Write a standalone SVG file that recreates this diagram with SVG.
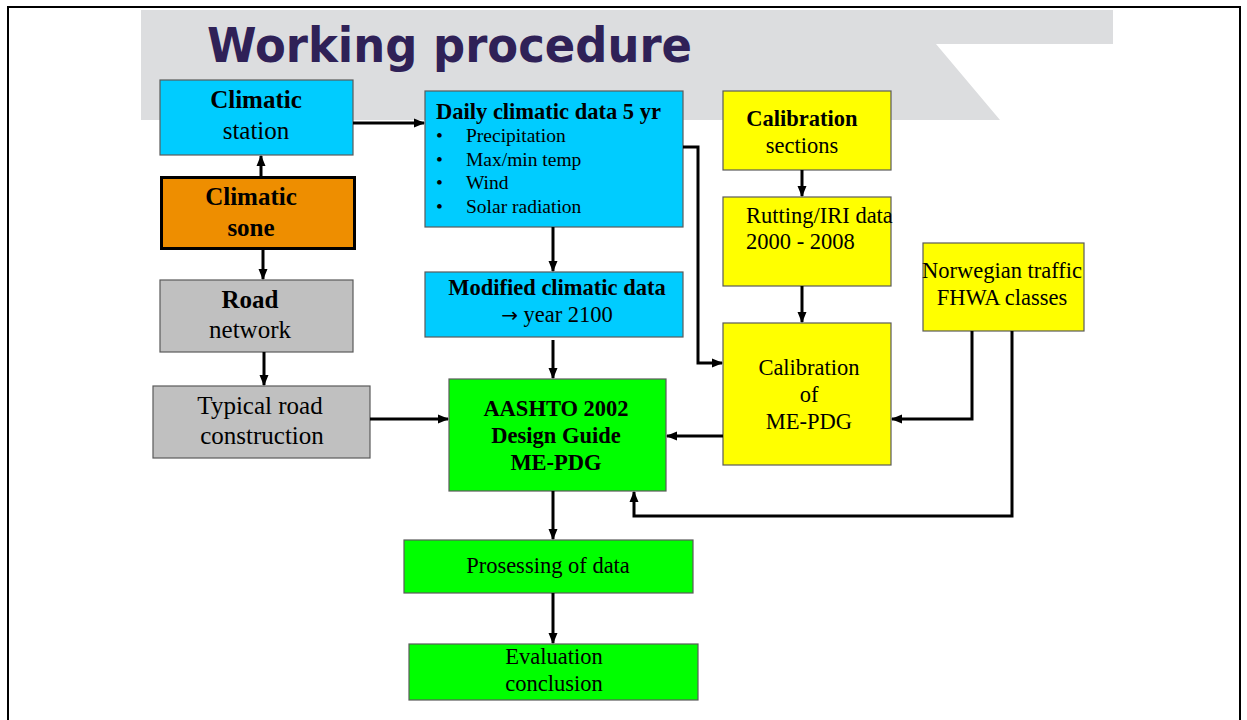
<svg xmlns="http://www.w3.org/2000/svg" width="1247" height="720" viewBox="0 0 1247 720">
<defs>
<marker id="ah" markerWidth="11" markerHeight="10" refX="10" refY="5" orient="auto" markerUnits="userSpaceOnUse">
<path d="M0,0.5 L11,5 L0,9.5 Z" fill="#000"/>
</marker>
<style>
.box{stroke:#5a5a5a;stroke-width:1.2}
.cyan{fill:#00ccff}.yel{fill:#ffff00}.grn{fill:#00ff00}.gry{fill:#c0c0c0}
.t{font-family:"Liberation Serif","Times New Roman",serif;fill:#000}
.b{font-weight:bold}
.c{text-anchor:middle}
.s25{font-size:25px}.s22{font-size:22.5px}.s19{font-size:19.5px}
.conn path{fill:none;stroke:#000;stroke-width:3;marker-end:url(#ah)}
</style>
</defs>
<rect x="0" y="0" width="1247" height="720" fill="#fff"/>
<rect x="8" y="7" width="1232" height="720" fill="none" stroke="#000" stroke-width="2"/>
<path d="M141,10 H1113 V44 H936 L1000,120 H141 Z" fill="#dcdddf"/>
<text x="207" y="62" font-family="'DejaVu Sans',Verdana,sans-serif" font-weight="bold" font-size="48" fill="#2f2157" textLength="485" lengthAdjust="spacingAndGlyphs">Working procedure</text>

<g id="climatic-station"><rect class="box cyan" x="160" y="80" width="193" height="75"/>
<text class="t b c s25" x="256" y="108">Climatic</text><text class="t c s25" x="256" y="139">station</text></g>
<g id="climatic-sone"><rect x="161.5" y="177.5" width="193" height="71" fill="#ee8e00" stroke="#000" stroke-width="3"/>
<text class="t b c s25" x="251" y="205">Climatic</text><text class="t b c s25" x="251" y="236">sone</text></g>
<g id="road-network"><rect class="box gry" x="160" y="280" width="193" height="72"/>
<text class="t b c s25" x="250" y="308">Road</text><text class="t c s25" x="250" y="338">network</text></g>
<g id="typical-road"><rect class="box gry" x="153" y="386" width="217" height="72"/>
<text class="t c s25" x="260" y="414">Typical road</text><text class="t c s25" x="262" y="444">construction</text></g>
<g id="daily-climatic"><rect class="box cyan" x="425" y="91" width="258" height="136"/>
<text class="t b s22" x="436" y="119">Daily climatic data 5 yr</text>
<text class="t s19" x="436" y="142">•</text><text class="t s19" x="466" y="142">Precipitation</text>
<text class="t s19" x="436" y="166">•</text><text class="t s19" x="466" y="166">Max/min temp</text>
<text class="t s19" x="436" y="189">•</text><text class="t s19" x="466" y="189">Wind</text>
<text class="t s19" x="436" y="213">•</text><text class="t s19" x="466" y="213">Solar radiation</text></g>
<g id="modified-climatic"><rect class="box cyan" x="425" y="272" width="258" height="65"/>
<text class="t b c s22" x="557" y="295">Modified climatic data</text><text class="t c s22" x="557" y="322"><tspan font-family="'DejaVu Sans',sans-serif" font-size="20">→</tspan> year 2100</text></g>
<g id="aashto"><rect class="box grn" x="449" y="379" width="217" height="112"/>
<text class="t b c s22" x="556" y="416">AASHTO 2002</text><text class="t b c s22" x="556" y="443">Design Guide</text><text class="t b c s22" x="556" y="470">ME-PDG</text></g>
<g id="prosessing"><rect class="box grn" x="404" y="540" width="289" height="53"/>
<text class="t c s22" x="548" y="573">Prosessing of data</text></g>
<g id="evaluation"><rect class="box grn" x="409" y="644" width="289" height="56"/>
<text class="t c s22" x="554" y="664">Evaluation</text><text class="t c s22" x="554" y="691">conclusion</text></g>
<g id="calibration-sections"><rect class="box yel" x="723" y="91" width="168" height="79"/>
<text class="t b c s22" x="802" y="126">Calibration</text><text class="t c s22" x="802" y="153">sections</text></g>
<g id="rutting"><rect class="box yel" x="723" y="197" width="168" height="89"/>
<text class="t s22" x="746" y="223">Rutting/IRI data</text><text class="t s22" x="746" y="249">2000 - 2008</text></g>
<g id="calibration-mepdg"><rect class="box yel" x="723" y="323" width="168" height="142"/>
<text class="t c s22" x="809" y="375">Calibration</text><text class="t c s22" x="809" y="402">of</text><text class="t c s22" x="809" y="429">ME-PDG</text></g>
<g id="norwegian-traffic"><rect class="box yel" x="923" y="243" width="161" height="88"/>
<text class="t c s22" x="1002" y="278">Norwegian traffic</text><text class="t c s22" x="1002" y="305">FHWA classes</text></g>

<g class="conn" id="connectors">
<path d="M261,177 V156"/>
<path d="M353,123 H424"/>
<path d="M263,249 V279"/>
<path d="M264,352 V385"/>
<path d="M370,419 H448"/>
<path d="M553,227 V271"/>
<path d="M553,340 V378"/>
<path d="M553,491 V539"/>
<path d="M553,593 V643"/>
<path d="M802,170 V196"/>
<path d="M802,286 V322"/>
<path d="M683,147 H698 V363 H722"/>
<path d="M972,331 V419 H892"/>
<path d="M1012,331 V516 H634 V492"/>
<path d="M723,436 H667"/>
</g>
</svg>
